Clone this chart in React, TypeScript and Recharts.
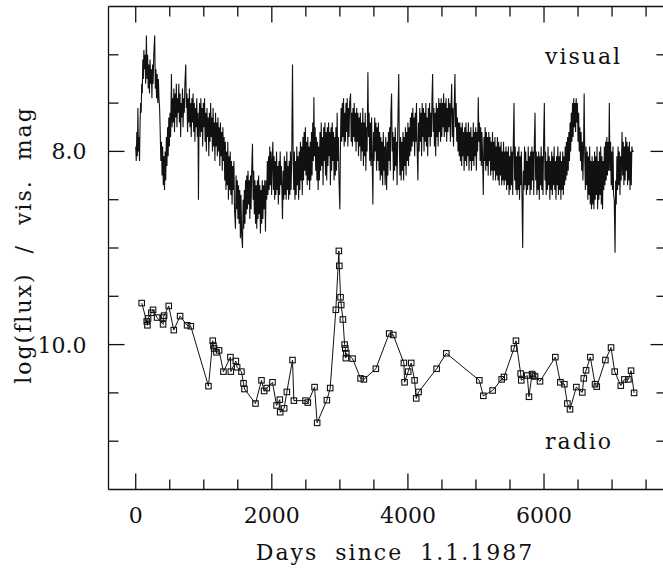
import React from 'react';
import { LineChart, Line, XAxis, YAxis } from 'recharts';

// visual light curve: [day since 1.1.1987, visual magnitude]
const visualObs: [number, number][] = [
  [0, 7.95], [8, 8.1], [16, 7.8], [24, 8.05], [32, 7.55], [40, 8.0], [48, 7.85], [56, 8.1], [64, 7.7], [72, 7.5],
  [80, 7.6], [88, 7.3], [96, 7.4], [104, 7.05], [112, 7.25], [120, 6.95], [128, 7.15], [136, 7.0],
  [146, 7.3], [157, 6.8], [166, 7.25], [175, 7.0], [184, 7.35], [193, 7.1], [202, 7.4], [211, 7.05], [220, 7.3], [229, 7.15],
  [238, 7.45], [247, 7.1], [256, 7.3], [265, 7.0], [279, 6.8], [288, 7.35], [297, 7.15], [306, 7.45], [315, 7.2], [324, 7.5],
  [333, 7.25], [342, 7.45], [351, 7.55],
  [360, 7.8], [369, 8.1], [378, 7.9], [387, 8.25], [396, 7.95], [405, 8.35], [414, 8.05], [423, 8.4], [432, 8.0], [441, 8.3],
  [450, 7.85], [459, 8.15], [468, 7.75], [477, 8.05], [486, 7.65], [495, 7.95], [504, 7.6], [513, 7.85], [525, 7.2], [534, 7.75],
  [543, 7.45], [552, 7.7], [561, 7.35], [570, 7.8], [579, 7.4], [588, 7.65], [597, 7.3], [606, 7.75], [615, 7.45], [624, 7.6],
  [633, 7.3], [642, 7.7], [651, 7.4], [660, 7.85], [669, 7.5], [678, 7.65], [687, 7.35], [696, 7.75], [705, 7.45], [714, 7.6],
  [723, 7.3], [735, 7.1], [744, 7.55], [753, 7.4], [762, 7.8], [771, 7.45], [780, 7.7], [789, 7.35], [798, 7.75], [807, 7.5],
  [816, 7.85], [825, 7.45], [834, 7.7], [843, 7.4], [852, 7.8], [861, 7.5], [870, 7.9], [879, 7.55], [888, 7.75], [897, 7.45],
  [906, 7.85], [914, 7.6], [922, 8.5], [930, 7.7],
  [939, 7.5], [948, 7.85], [957, 7.45], [966, 7.8], [975, 7.55], [984, 7.95], [993, 7.5], [1002, 7.75], [1011, 7.45], [1020, 7.9],
  [1029, 7.6], [1038, 8.0], [1047, 7.55], [1056, 7.85], [1065, 7.65], [1074, 8.05], [1083, 7.6], [1092, 7.9], [1101, 7.5], [1110, 7.85],
  [1119, 7.65], [1128, 8.0], [1137, 7.55], [1146, 7.95], [1155, 7.7], [1164, 8.1], [1173, 7.6], [1182, 7.95], [1191, 7.7], [1200, 8.05],
  [1209, 7.65], [1218, 8.0], [1227, 7.75], [1236, 8.15], [1245, 7.7], [1254, 8.05], [1263, 7.8], [1272, 8.2], [1281, 7.75], [1290, 8.1],
  [1299, 7.85], [1308, 8.3], [1317, 7.9], [1326, 8.4], [1335, 8.0], [1344, 8.35], [1353, 7.9], [1362, 8.5], [1371, 8.05], [1380, 8.4],
  [1389, 8.0], [1398, 8.45], [1407, 8.1], [1416, 8.55], [1425, 8.15], [1434, 8.4], [1443, 8.1], [1452, 8.6], [1466, 8.8], [1475, 8.25],
  [1484, 8.6], [1493, 8.3],
  [1502, 8.7], [1511, 8.35], [1520, 8.75], [1529, 8.4], [1538, 8.9], [1547, 8.45], [1556, 8.85], [1569, 9.0], [1578, 8.5], [1587, 8.8],
  [1596, 8.4], [1605, 8.75], [1614, 8.3], [1623, 8.65], [1632, 8.25], [1641, 8.6], [1650, 8.2], [1659, 8.55], [1668, 8.3], [1677, 8.7],
  [1686, 8.25], [1695, 8.6], [1704, 8.2], [1716, 7.92], [1725, 8.5], [1734, 8.2], [1743, 8.65], [1752, 8.3], [1761, 8.75], [1770, 8.35],
  [1779, 8.8], [1788, 8.3], [1797, 8.7], [1806, 8.25], [1815, 8.65], [1824, 8.35], [1833, 8.85], [1842, 8.4], [1851, 8.75], [1860, 8.3],
  [1869, 8.7], [1878, 8.35], [1887, 8.6], [1896, 8.3], [1907, 8.83], [1916, 8.3],
  [1925, 8.5], [1934, 8.1], [1943, 8.45], [1952, 8.05], [1961, 8.4], [1970, 7.95], [1979, 8.35], [1988, 8.0], [1997, 8.45], [2006, 8.1],
  [2015, 7.9], [2024, 8.4], [2033, 8.05], [2042, 8.5], [2051, 8.1], [2060, 8.45], [2069, 8.0], [2078, 8.4], [2087, 8.15], [2096, 8.55],
  [2105, 8.1], [2114, 8.45], [2123, 8.0], [2132, 8.35], [2141, 8.15], [2157, 8.7], [2166, 8.2], [2175, 8.5], [2184, 8.05], [2193, 8.45],
  [2202, 8.1], [2211, 8.5], [2220, 8.0], [2229, 8.4], [2238, 8.15], [2247, 8.5], [2256, 8.1], [2265, 8.45], [2274, 8.0], [2283, 8.4],
  [2292, 8.1], [2304, 7.1], [2313, 8.0],
  [2322, 8.4], [2331, 8.0], [2340, 8.5], [2349, 8.1], [2358, 8.45], [2367, 7.95], [2376, 8.35], [2385, 8.05], [2394, 8.5], [2403, 8.0],
  [2412, 8.4], [2421, 7.9], [2430, 8.3], [2439, 7.95], [2448, 8.45], [2457, 7.85], [2466, 8.3], [2475, 7.8], [2484, 8.2], [2493, 7.75],
  [2502, 8.25], [2511, 7.9], [2520, 8.35], [2529, 7.85], [2538, 8.3], [2547, 7.95], [2556, 8.4], [2565, 7.9], [2574, 8.3], [2583, 7.8],
  [2592, 8.25], [2601, 7.7], [2610, 8.1], [2618, 7.44], [2627, 8.05], [2636, 7.75], [2645, 8.2], [2654, 7.85], [2663, 8.3], [2672, 7.9],
  [2681, 8.4], [2690, 7.95],
  [2699, 8.3], [2708, 7.8], [2717, 8.2], [2726, 7.7], [2735, 8.15], [2744, 7.85], [2753, 8.35], [2762, 7.75], [2771, 8.1], [2780, 7.7],
  [2789, 8.25], [2798, 7.8], [2807, 8.3], [2816, 7.75], [2825, 8.15], [2834, 7.7], [2843, 8.05], [2852, 7.8], [2861, 8.35], [2870, 7.75],
  [2879, 8.2], [2888, 7.7], [2897, 8.1], [2906, 7.8], [2915, 8.3], [2924, 7.85], [2933, 8.25], [2942, 7.75], [2951, 8.2], [2960, 7.6],
  [2969, 8.1], [2978, 7.85], [2987, 8.3], [3000, 8.6], [3009, 7.9],
  [3018, 7.55], [3027, 7.9], [3036, 7.5], [3045, 7.85], [3054, 7.45], [3063, 7.95], [3072, 7.6], [3081, 7.9], [3090, 7.5], [3099, 7.8],
  [3108, 7.45], [3117, 7.95], [3126, 7.55], [3135, 7.85], [3144, 7.5], [3157, 7.4], [3166, 7.9], [3175, 7.6], [3184, 7.95], [3193, 7.55],
  [3202, 7.85], [3211, 7.5], [3220, 7.9], [3229, 7.6], [3238, 8.0], [3247, 7.55], [3256, 7.9], [3265, 7.6], [3274, 8.05], [3283, 7.65],
  [3292, 7.95],
  [3301, 7.6], [3310, 8.1], [3319, 7.7], [3328, 8.0], [3337, 7.55], [3346, 8.15], [3355, 7.7], [3364, 8.05], [3373, 7.6], [3382, 8.2],
  [3391, 7.75], [3400, 8.0], [3412, 7.18], [3421, 7.85], [3430, 7.6], [3439, 8.1], [3448, 7.7], [3457, 8.15], [3466, 7.65], [3475, 8.05],
  [3485, 8.55], [3494, 7.8], [3503, 8.1], [3512, 7.65], [3521, 8.0], [3530, 7.7], [3539, 8.2], [3548, 7.75], [3557, 8.1], [3566, 7.7],
  [3575, 8.2], [3584, 7.8],
  [3593, 8.3], [3602, 7.85], [3611, 8.25], [3620, 7.9], [3629, 8.35], [3638, 7.8], [3647, 8.2], [3656, 7.95], [3665, 8.35], [3674, 7.85],
  [3687, 8.4], [3696, 7.9], [3705, 8.25], [3714, 7.8], [3723, 8.1], [3732, 7.75], [3741, 8.2], [3750, 7.6], [3760, 7.4], [3769, 8.0],
  [3778, 7.8], [3787, 8.3], [3796, 7.85], [3805, 8.2], [3814, 7.75], [3823, 8.15], [3832, 7.9], [3841, 8.35], [3850, 7.8], [3865, 7.2],
  [3874, 7.95], [3883, 8.25], [3892, 7.85], [3901, 8.3], [3910, 7.9], [3919, 8.2], [3928, 7.8], [3937, 8.3], [3946, 7.85], [3955, 8.15],
  [3964, 7.75], [3973, 8.25], [3982, 7.8], [3991, 8.1], [4000, 7.7], [4009, 8.15], [4018, 7.75], [4027, 8.05], [4036, 7.65], [4045, 8.0],
  [4054, 7.6], [4063, 7.95], [4072, 7.55], [4081, 7.9], [4090, 7.65], [4099, 8.05], [4108, 7.6], [4117, 7.9], [4126, 7.5], [4135, 7.95],
  [4147, 8.3], [4156, 7.7], [4165, 8.0], [4174, 7.55], [4183, 7.9], [4192, 7.6], [4201, 8.05], [4210, 7.5], [4219, 7.85], [4228, 7.55],
  [4237, 8.0], [4246, 7.6], [4255, 7.9], [4264, 7.5], [4273, 7.95], [4282, 7.65], [4291, 8.05], [4300, 7.55], [4309, 7.85], [4318, 7.5],
  [4327, 7.95], [4336, 7.6], [4345, 7.85], [4354, 7.45], [4363, 7.2], [4372, 7.8], [4381, 7.55], [4390, 7.95], [4399, 7.6], [4408, 8.05],
  [4417, 7.5], [4426, 7.85], [4435, 7.55], [4444, 7.95], [4453, 7.45], [4462, 7.8], [4471, 7.5], [4480, 7.9], [4489, 7.45], [4498, 7.85],
  [4507, 7.5], [4516, 7.75], [4525, 7.4], [4534, 7.85], [4543, 7.5], [4552, 7.8], [4561, 7.45], [4570, 7.9], [4579, 7.55], [4588, 7.8],
  [4597, 7.45], [4606, 7.75], [4615, 7.5], [4624, 7.9], [4633, 7.55], [4643, 7.3], [4652, 7.85], [4661, 7.55], [4670, 7.95], [4679, 7.6],
  [4691, 7.2], [4700, 7.75], [4709, 7.5], [4718, 7.9], [4727, 7.65], [4736, 8.0], [4745, 7.7], [4754, 8.05],
  [4763, 7.7], [4772, 8.1], [4781, 7.75], [4790, 8.15], [4799, 7.7], [4808, 8.05], [4817, 7.8], [4826, 8.2], [4835, 7.75], [4844, 8.1],
  [4853, 7.7], [4862, 8.15], [4871, 7.8], [4880, 8.05], [4889, 7.7], [4898, 8.2], [4907, 7.8], [4916, 8.1], [4925, 7.75], [4934, 8.2],
  [4943, 7.85], [4952, 8.1], [4961, 7.7], [4970, 8.15], [4979, 7.8], [4988, 8.05], [4997, 7.75], [5006, 8.2], [5015, 7.8], [5024, 8.0],
  [5034, 7.44], [5043, 7.9], [5052, 7.7], [5061, 8.1], [5070, 7.75], [5079, 8.15], [5088, 7.8], [5097, 8.05], [5108, 8.45], [5117, 7.85],
  [5126, 8.1], [5135, 7.75], [5144, 8.2], [5153, 7.8], [5162, 8.15], [5171, 7.85], [5180, 8.25], [5189, 7.8], [5198, 8.1], [5207, 7.85],
  [5216, 8.25], [5225, 7.9], [5234, 8.2], [5243, 7.8], [5252, 8.3], [5261, 7.9], [5270, 8.2], [5279, 7.85], [5288, 8.3], [5297, 7.95],
  [5306, 8.25], [5315, 7.85], [5324, 8.3], [5333, 7.9], [5342, 8.35], [5351, 7.95], [5360, 8.25], [5369, 7.9], [5378, 8.35], [5387, 8.0],
  [5396, 8.3], [5405, 7.9], [5414, 8.35], [5423, 8.0], [5432, 8.3], [5441, 7.95],
  [5450, 8.4], [5459, 8.0], [5468, 8.35], [5477, 7.95], [5486, 8.45], [5495, 8.05], [5504, 8.4], [5513, 7.95], [5522, 8.35], [5531, 8.0],
  [5540, 8.45], [5549, 7.9], [5559, 7.5], [5568, 8.3], [5577, 7.95], [5586, 8.4], [5595, 8.05], [5604, 8.45], [5613, 8.0], [5622, 8.4],
  [5631, 7.95], [5640, 8.5], [5649, 8.05], [5658, 8.35], [5667, 8.0], [5676, 8.45], [5687, 9.0], [5696, 8.2], [5705, 8.4], [5714, 7.95],
  [5723, 8.35], [5732, 8.0], [5741, 8.45], [5750, 8.1], [5759, 8.4], [5768, 7.95], [5777, 8.35], [5786, 8.05], [5795, 8.45], [5804, 8.0],
  [5813, 8.4], [5822, 7.95], [5831, 8.3], [5840, 8.0], [5849, 8.45], [5858, 7.9], [5868, 7.6], [5877, 8.3], [5886, 8.0], [5895, 8.45],
  [5904, 8.05], [5913, 8.4], [5922, 8.0], [5931, 8.5], [5940, 8.05], [5949, 8.35], [5958, 7.95], [5967, 8.4], [5976, 8.05], [5985, 8.45],
  [5994, 7.9], [6005, 7.5], [6014, 8.3], [6023, 8.0], [6032, 8.45], [6041, 8.1], [6050, 8.4], [6059, 7.95], [6068, 8.35], [6077, 8.05],
  [6086, 8.5], [6095, 8.1], [6104, 8.4], [6113, 8.0], [6122, 8.45], [6131, 8.05], [6140, 8.35], [6149, 7.95], [6158, 8.4], [6167, 8.1],
  [6176, 8.5], [6185, 8.05], [6194, 8.35], [6203, 7.95], [6212, 8.45], [6221, 8.05], [6230, 8.4], [6239, 8.0], [6248, 8.5], [6257, 8.1],
  [6266, 8.4], [6275, 8.0], [6284, 8.45], [6293, 8.05], [6302, 8.35], [6311, 7.95], [6320, 8.3], [6329, 7.9], [6338, 8.25], [6347, 7.85],
  [6356, 8.2], [6365, 7.8],
  [6374, 8.1], [6383, 7.7], [6392, 8.0], [6401, 7.6], [6410, 7.9], [6419, 7.5], [6428, 7.85], [6437, 7.45], [6446, 7.75], [6455, 7.5],
  [6464, 7.8], [6473, 7.45], [6482, 7.7], [6491, 7.5], [6500, 7.9], [6509, 7.6], [6518, 8.0], [6527, 7.75], [6536, 8.1], [6545, 7.8],
  [6554, 8.2], [6563, 7.9], [6572, 8.3], [6581, 7.95], [6590, 7.4], [6599, 8.05], [6608, 8.4], [6617, 7.95], [6626, 8.35], [6635, 8.0],
  [6644, 8.5], [6653, 8.05], [6662, 8.45], [6671, 7.95], [6680, 8.55], [6689, 8.1], [6698, 8.6], [6707, 8.05], [6716, 8.55], [6725, 8.1],
  [6734, 8.6], [6743, 8.0], [6752, 8.5], [6761, 8.05], [6770, 8.45], [6779, 7.95], [6788, 8.6], [6797, 8.1], [6806, 8.5], [6815, 8.0],
  [6824, 8.45], [6833, 7.95], [6842, 8.55], [6851, 8.05], [6860, 8.6], [6869, 8.1], [6878, 8.4], [6887, 7.95], [6896, 8.35], [6905, 7.9],
  [6914, 8.3], [6923, 7.85], [6932, 8.25], [6941, 7.9], [6950, 8.2], [6960, 7.5], [6969, 8.2],
  [6978, 7.9], [6987, 8.35], [6996, 8.0], [7005, 8.4], [7014, 7.95], [7023, 8.45], [7032, 8.5], [7044, 9.05], [7053, 8.3], [7062, 8.55],
  [7071, 8.05], [7080, 8.4], [7089, 7.95], [7098, 8.35], [7107, 8.0], [7116, 8.45], [7125, 8.05], [7134, 8.3], [7147, 7.8], [7156, 8.25],
  [7165, 7.9], [7174, 8.35], [7183, 7.95], [7192, 8.3], [7201, 7.85], [7210, 8.2], [7219, 7.9], [7228, 8.35], [7237, 7.95], [7246, 8.3],
  [7255, 7.9], [7264, 8.4], [7273, 8.0], [7282, 8.35], [7291, 7.95], [7300, 8.0], [7309, 8.0], [7318, 8.0],
];

// radio flux, plotted on the same (inverted) axis: [day, offset log(flux)]
const radioObs: [number, number][] = [
  [88, 9.57], [162, 9.76], [172, 9.8], [181, 9.73], [230, 9.67], [255, 9.64], [314, 9.72], [402, 9.79], [407, 9.72], [417, 9.7],
  [485, 9.6], [559, 9.85], [652, 9.705], [755, 9.8], [809, 9.81], [1069, 10.43], [1132, 9.96], [1142, 10.01], [1152, 10.04], [1186, 10.08],
  [1225, 10.06], [1289, 10.28], [1392, 10.13], [1397, 10.28], [1471, 10.17], [1490, 10.235], [1554, 10.28], [1584, 10.4], [1598, 10.46], [1760, 10.61],
  [1848, 10.37], [1887, 10.48], [1926, 10.45], [2010, 10.39], [2069, 10.63], [2118, 10.57], [2123, 10.7], [2181, 10.66], [2221, 10.49], [2304, 10.16],
  [2324, 10.58], [2495, 10.58], [2529, 10.6], [2628, 10.44], [2666, 10.81], [2809, 10.575], [2858, 10.45], [2941, 9.64], [2985, 9.03], [2992, 9.185],
  [3010, 9.51], [3020, 9.59], [3045, 9.74], [3070, 10.0], [3080, 10.04], [3088, 10.14], [3095, 10.09], [3187, 10.145], [3304, 10.35], [3353, 10.36],
  [3529, 10.25], [3725, 9.885], [3784, 9.9], [3941, 10.19], [3951, 10.39], [4004, 10.28], [4049, 10.19], [4098, 10.37], [4122, 10.557], [4157, 10.49],
  [4422, 10.25], [4564, 10.09], [5049, 10.37], [5108, 10.53], [5245, 10.475], [5378, 10.36], [5412, 10.335], [5559, 10.04], [5588, 9.96], [5657, 10.3],
  [5666, 10.37], [5754, 10.32], [5779, 10.54], [5824, 10.305], [5838, 10.32], [5868, 10.33], [5941, 10.38], [6166, 10.13], [6240, 10.39], [6299, 10.41],
  [6343, 10.61], [6382, 10.67], [6475, 10.44], [6563, 10.495], [6584, 10.35], [6618, 10.266], [6681, 10.13], [6750, 10.41], [6775, 10.435], [6902, 10.16],
  [6985, 10.03], [7039, 10.28], [7128, 10.425], [7181, 10.36], [7240, 10.36], [7279, 10.27], [7324, 10.5],
];

const xTicks = [0, 500, 1000, 1500, 2000, 2500, 3000, 3500, 4000, 4500, 5000, 5500, 6000, 6500, 7000, 7500];
const xMajor = [0, 2000, 4000, 6000];
const yTicks = [7, 7.5, 8, 8.5, 9, 9.5, 10, 10.5, 11];
const yMajor = [8, 10];

const visualData = visualObs.map(([day, mag]) => ({ day, mag }));
const radioData = radioObs.map(([day, mag]) => ({ day, mag }));

const FONT = '"DejaVu Serif", serif';
const INK = '#111';
const MAJOR = 16;
const MINOR = 10;

const BottomTick = (props: any) => {
  const { x, y, payload } = props;
  const major = xMajor.includes(payload.value);
  return (
    <g>
      <line x1={x} y1={y} x2={x} y2={y - (major ? MAJOR : MINOR)} stroke={INK} strokeWidth={1.3} />
      {major && (
        <text x={x} y={y + 33} textAnchor="middle" fontFamily={FONT} fontSize={22} fill={INK}>
          {payload.value}
        </text>
      )}
    </g>
  );
};

const TopTick = (props: any) => {
  const { x, y, payload } = props;
  const major = xMajor.includes(payload.value);
  return <line x1={x} y1={y} x2={x} y2={y + (major ? MAJOR : MINOR)} stroke={INK} strokeWidth={1.3} />;
};

const LeftTick = (props: any) => {
  const { x, y, payload } = props;
  const major = yMajor.includes(payload.value);
  return (
    <g>
      <line x1={x} y1={y} x2={x + (major ? MAJOR : MINOR)} y2={y} stroke={INK} strokeWidth={1.3} />
      {major && (
        <text x={x - 22} y={y + 8} textAnchor="end" fontFamily={FONT} fontSize={22} fill={INK}>
          {payload.value.toFixed(1)}
        </text>
      )}
    </g>
  );
};

const RightTick = (props: any) => {
  const { x, y, payload } = props;
  const major = yMajor.includes(payload.value);
  return <line x1={x} y1={y} x2={x - (major ? MAJOR : MINOR)} y2={y} stroke={INK} strokeWidth={1.3} />;
};

const SquareDot = (props: any) => {
  const { cx, cy, index } = props;
  return (
    <rect key={`sq-${index}`} x={cx - 2.75} y={cy - 2.75} width={5.5} height={5.5} fill="none" stroke={INK} strokeWidth={1.1} />
  );
};

export default function App() {
  return (
    <div style={{ position: 'fixed', left: 0, top: 0, width: 663, height: 568, overflow: 'hidden', background: '#fff' }}>
      <LineChart width={680} height={568} margin={{ top: 5.5, right: 12.5, bottom: 0, left: 0 }}>
        <XAxis
          xAxisId="bottom"
          type="number"
          dataKey="day"
          domain={[-400, 7800]}
          ticks={xTicks}
          interval={0}
          allowDataOverflow
          height={78.5}
          tickSize={0}
          tickMargin={0}
          tick={<BottomTick />}
          axisLine={{ stroke: INK, strokeWidth: 1.3 }}
        />
        <XAxis
          xAxisId="top"
          orientation="top"
          type="number"
          dataKey="day"
          domain={[-400, 7800]}
          ticks={xTicks}
          interval={0}
          allowDataOverflow
          height={1}
          tickSize={0}
          tickMargin={0}
          tick={<TopTick />}
          axisLine={{ stroke: INK, strokeWidth: 1.3 }}
        />
        <YAxis
          yAxisId="left"
          type="number"
          domain={[6.5, 11.5]}
          reversed
          ticks={yTicks}
          interval={0}
          allowDataOverflow
          width={108.5}
          tickSize={0}
          tickMargin={0}
          tick={<LeftTick />}
          axisLine={{ stroke: INK, strokeWidth: 1.3 }}
        />
        <YAxis
          yAxisId="right"
          orientation="right"
          type="number"
          domain={[6.5, 11.5]}
          reversed
          ticks={yTicks}
          interval={0}
          allowDataOverflow
          width={1}
          tickSize={0}
          tickMargin={0}
          tick={<RightTick />}
          axisLine={{ stroke: INK, strokeWidth: 1.3 }}
        />
        <Line
          xAxisId="bottom"
          yAxisId="left"
          data={visualData}
          dataKey="mag"
          stroke={INK}
          strokeWidth={1.1}
          dot={false}
          isAnimationActive={false}
        />
        <Line
          xAxisId="top"
          yAxisId="right"
          data={radioData}
          dataKey="mag"
          stroke={INK}
          strokeWidth={1}
          dot={<SquareDot />}
          isAnimationActive={false}
        />
      </LineChart>
      <svg width={663} height={568} style={{ position: 'absolute', left: 0, top: 0, pointerEvents: 'none' }}>
        <g fontFamily={FONT} fontSize={22} fill={INK}>
          <text x={545} y={64} letterSpacing={2}>visual</text>
          <text x={545} y={449} letterSpacing={2}>radio</text>
          <text x={395} y={560} textAnchor="middle" letterSpacing={2} wordSpacing={8}>Days since 1.1.1987</text>
          <text
            transform="translate(31,245) rotate(-90)"
            textAnchor="middle"
            letterSpacing={2}
            wordSpacing={10}
          >
            log(flux) / vis. mag
          </text>
        </g>
      </svg>
    </div>
  );
}
